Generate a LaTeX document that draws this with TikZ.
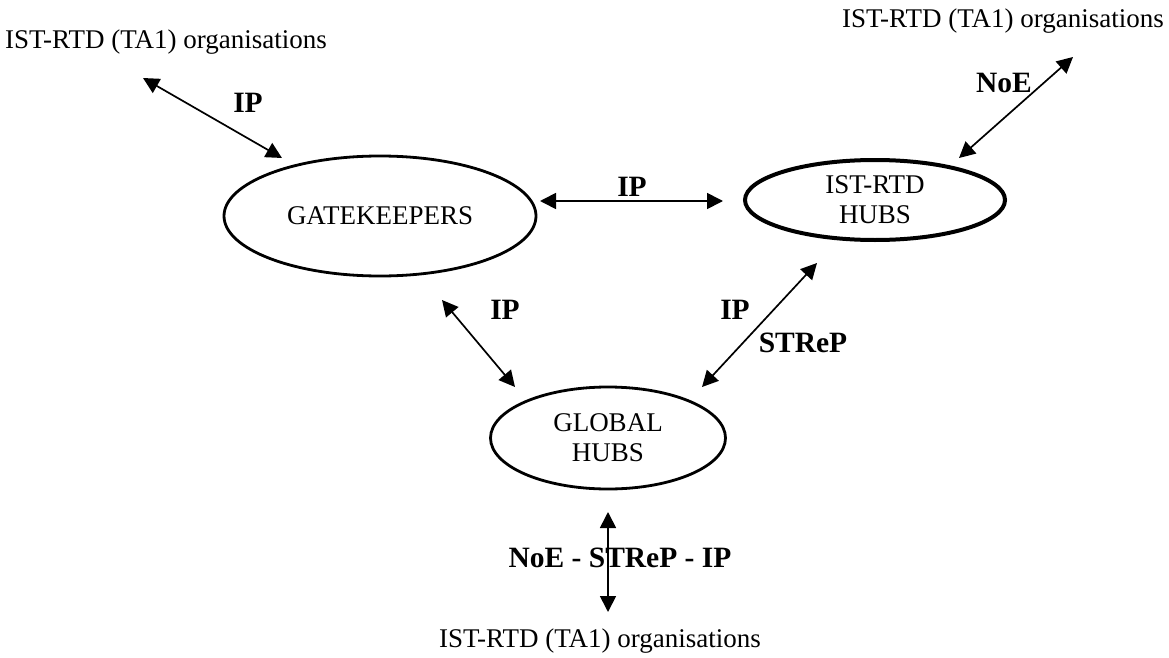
\documentclass[tikz,border=0pt]{standalone}
\usepackage{fontspec}
\setmainfont{Liberation Serif}
\usetikzlibrary{shapes.geometric,arrows.meta}
\tikzset{
  hub/.style={ellipse, draw, line width=2.8pt, inner sep=0pt, align=center,
    font=\fontsize{27}{30}\selectfont},
  plain/.style={font=\fontsize{27}{30}\selectfont, inner sep=0pt},
  lab/.style={font=\fontsize{29.5}{32}\selectfont\bfseries, inner sep=0pt},
  link/.style={line width=1.7pt,
    {Triangle[length=16pt,width=16pt]}-{Triangle[length=16pt,width=16pt]}}
}
\begin{document}
\begin{tikzpicture}[x=1pt,y=-1pt]
\useasboundingbox (0,0) rectangle (1169,658);
% nodes
\node[hub, minimum width=312pt, minimum height=120pt] (gk) at (380,216) {\raisebox{-5pt}{GATEKEEPERS}};
\node[hub, line width=4pt, minimum width=260pt, minimum height=80pt] (ist) at (875,200) {IST-RTD\\HUBS};
\node[hub, minimum width=235pt, minimum height=102pt] (glob) at (608,438) {GLOBAL\\HUBS};
\node[plain, anchor=base] (otl) at (166,49) {IST-RTD (TA1) organisations};
\node[plain, anchor=base] (otr) at (1003,28) {IST-RTD (TA1) organisations};
\node[plain, anchor=base] (obt) at (600,647) {IST-RTD (TA1) organisations};
% arrow end points
\coordinate (a1s) at (143,78);  \coordinate (a1e) at (282,158);
\coordinate (a2s) at (1073,57); \coordinate (a2e) at (959,158);
\coordinate (a3s) at (540,201); \coordinate (a3e) at (723,201);
\coordinate (a4s) at (442,300); \coordinate (a4e) at (515,387);
\coordinate (a5s) at (817,263); \coordinate (a5e) at (702,387);
\coordinate (a6s) at (608,512); \coordinate (a6e) at (608,612);
% connectors
\draw[link] (a1s) -- (a1e);
\draw[link] (a3s) -- (a3e);
\draw[link] (a4s) -- (a4e);
\draw[link] (a5s) -- (a5e);
% labels
\node[lab] (l1) at (248,103) {IP};
\node[lab] (l2) at (1004,83) {NoE};
\node[lab] (l3) at (632,187) {IP};
\node[lab] (l4) at (505,310) {IP};
\node[lab] (l5) at (735,310) {IP};
\node[lab] (l6) at (803,343) {STReP};
\node[lab] (l7) at (620,558) {NoE - STReP - IP};
\draw[link] (a2s) -- (a2e);
\draw[link] (a6s) -- (a6e);
\end{tikzpicture}
\end{document}
